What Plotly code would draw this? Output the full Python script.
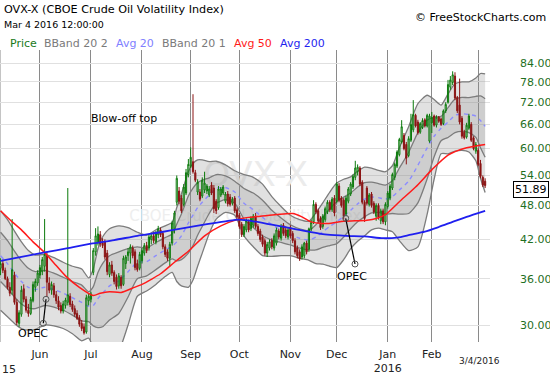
import math
import plotly.graph_objects as go

F = "DejaVu Sans"

# ---------------- data (trading-day index: 0 = 1 May 2015) ----------------
day = list(range(3, 213))

open_ = [
    37.5, 38.2, 37.2, 36.0, 34.8, 34.4, 36.5, 32.8, 30.2, 31.3,
    34.6, 33.2, 31.8, 31.4, 33.0, 34.8, 35.4, 36.5, 37.0, 37.8,
    39.4, 35.4, 34.4, 35.0, 33.8, 33.0, 32.4, 31.7, 32.4, 32.8,
    33.6, 32.6, 32.0, 31.4, 30.9, 30.2, 29.8, 29.2, 33.0, 33.2,
    36.9, 40.0, 41.4, 42.8, 41.5, 41.6, 39.8, 36.6, 38.0, 36.9,
    36.2, 35.0, 36.2, 35.2, 38.2, 39.4, 39.8, 40.6, 40.0, 38.2,
    37.5, 38.6, 39.8, 41.0, 40.6, 42.0, 42.6, 41.6, 42.8, 43.6,
    43.0, 40.8, 40.0, 39.0, 41.4, 43.6, 48.6, 50.8, 49.4, 48.2,
    50.4, 54.2, 56.0, 57.0, 54.6, 50.6, 50.6, 49.8, 51.0, 50.8,
    50.0, 52.0, 51.4, 48.8, 47.6, 50.0, 50.4, 48.8, 50.2, 49.6,
    48.4, 49.4, 47.2, 46.2, 44.6, 42.8, 43.6, 45.0, 43.8, 44.4,
    46.0, 44.2, 43.4, 42.4, 41.8, 39.8, 40.6, 41.8, 40.6, 41.4,
    43.4, 42.2, 44.4, 43.6, 42.4, 44.0, 43.0, 41.8, 40.6, 40.0,
    39.2, 39.4, 41.4, 40.4, 43.8, 45.0, 48.2, 47.0, 45.6, 44.2,
    45.4, 46.8, 48.6, 47.2, 49.4, 48.8, 51.8, 49.4, 49.0, 46.4,
    48.8, 50.2, 51.6, 53.6, 54.8, 55.6, 52.6, 48.6, 51.4, 48.2,
    50.2, 48.4, 46.0, 48.0, 45.2, 47.0, 45.0, 47.8, 49.4, 51.4,
    53.6, 56.0, 58.6, 61.6, 63.2, 61.0, 58.4, 62.0, 64.6, 68.4,
    66.6, 64.0, 65.2, 67.2, 65.6, 61.8, 66.4, 68.2, 65.8, 67.9,
    67.4, 66.2, 69.6, 72.0, 76.4, 77.8, 79.8, 73.4, 71.2, 67.6,
    64.0, 62.8, 65.0, 66.0, 62.6, 59.4, 59.6, 56.6, 53.6, 52.8,
]
high = [
    39.0, 38.8, 37.6, 36.3, 35.5, 45.5, 37.0, 33.2, 31.8, 35.0,
    35.2, 33.6, 32.6, 33.5, 35.6, 36.0, 37.2, 38.0, 39.2, 45.5,
    40.0, 36.2, 35.6, 35.4, 34.3, 33.6, 32.8, 33.0, 33.4, 51.4,
    34.0, 33.0, 32.4, 31.8, 31.2, 30.6, 30.2, 33.8, 34.0, 34.2,
    40.6, 43.9, 44.2, 43.4, 42.2, 42.0, 40.3, 38.4, 38.6, 37.2,
    36.6, 36.8, 36.5, 39.4, 39.5, 40.6, 41.2, 41.0, 40.4, 38.8,
    40.0, 40.6, 41.4, 41.6, 42.8, 43.0, 43.2, 43.4, 44.3, 44.0,
    43.4, 41.2, 40.4, 41.6, 45.2, 47.0, 54.0, 51.6, 50.0, 52.2,
    55.4, 57.6, 60.3, 74.3, 55.2, 53.2, 51.2, 53.6, 54.8, 52.2,
    51.8, 52.6, 52.0, 49.2, 51.8, 51.6, 52.0, 50.6, 50.8, 50.2,
    49.6, 49.8, 47.6, 46.6, 45.0, 44.6, 45.6, 45.4, 46.0, 46.4,
    46.6, 44.6, 43.8, 42.8, 42.2, 41.6, 42.0, 42.2, 43.0, 44.0,
    43.8, 44.6, 44.8, 44.2, 44.0, 44.4, 43.4, 42.2, 41.0, 40.4,
    41.2, 41.6, 41.8, 44.0, 45.4, 49.0, 48.6, 47.4, 46.0, 46.4,
    47.8, 49.0, 49.0, 49.6, 50.0, 52.6, 52.4, 49.8, 49.4, 49.8,
    51.6, 52.6, 54.2, 57.2, 56.4, 56.0, 53.0, 49.0, 51.8, 50.4,
    50.6, 48.8, 48.4, 48.4, 47.4, 47.4, 48.6, 50.8, 52.2, 54.6,
    56.8, 59.6, 62.6, 67.1, 63.8, 61.6, 63.0, 68.8, 72.6, 68.8,
    67.2, 66.6, 67.6, 67.6, 68.8, 68.8, 69.3, 68.6, 68.4, 68.2,
    67.8, 70.0, 72.0, 78.6, 79.8, 81.3, 81.0, 73.8, 79.0, 68.2,
    64.6, 66.4, 68.8, 66.6, 63.0, 61.6, 60.2, 57.4, 54.0, 53.4,
]
low = [
    36.5, 36.8, 35.8, 34.5, 33.6, 33.8, 32.5, 30.0, 29.8, 31.0,
    32.8, 31.5, 31.0, 31.2, 32.8, 34.2, 35.0, 36.0, 36.5, 37.0,
    33.5, 34.0, 33.8, 33.4, 32.6, 31.8, 31.4, 31.4, 32.0, 32.4,
    32.2, 31.6, 31.0, 30.6, 29.8, 29.3, 28.9, 29.0, 32.4, 32.8,
    36.5, 39.4, 41.0, 40.8, 40.6, 38.8, 36.5, 36.2, 36.4, 35.2,
    34.5, 34.6, 34.6, 35.0, 37.4, 38.6, 38.2, 39.0, 37.2, 37.0,
    37.2, 38.2, 39.4, 39.8, 40.2, 41.2, 41.4, 41.2, 42.2, 42.4,
    40.4, 39.2, 38.6, 37.8, 41.0, 43.0, 48.0, 48.2, 46.6, 47.8,
    50.0, 53.6, 55.6, 54.4, 52.6, 50.0, 48.8, 49.4, 50.4, 50.2,
    49.6, 50.0, 46.6, 46.4, 47.2, 49.6, 50.0, 48.4, 47.8, 47.8,
    48.0, 46.6, 45.6, 43.8, 42.4, 42.4, 43.2, 43.2, 43.4, 44.0,
    43.8, 42.6, 41.6, 40.8, 39.4, 39.2, 40.2, 40.4, 40.2, 41.0,
    42.0, 41.8, 42.6, 42.2, 42.0, 42.2, 41.4, 39.6, 39.0, 38.6,
    38.8, 39.0, 39.6, 40.0, 43.4, 44.6, 46.4, 44.8, 43.6, 43.8,
    45.0, 46.4, 46.8, 46.8, 46.0, 48.4, 48.6, 47.6, 45.4, 46.0,
    48.4, 49.8, 51.2, 53.0, 54.0, 51.8, 48.2, 45.0, 48.0, 47.8,
    47.6, 46.4, 45.2, 45.4, 44.6, 44.6, 44.4, 47.4, 49.0, 51.0,
    53.0, 55.6, 58.2, 61.2, 59.6, 56.4, 58.0, 61.6, 64.0, 65.2,
    63.4, 63.6, 64.8, 65.2, 65.2, 61.4, 63.8, 65.4, 65.2, 66.4,
    65.6, 65.8, 69.0, 71.6, 75.6, 77.0, 72.6, 69.0, 66.0, 62.4,
    62.2, 62.4, 64.6, 61.6, 59.6, 58.8, 56.0, 53.4, 51.6, 51.4,
]
close = [
    38.2, 37.2, 36.0, 34.8, 34.0, 37.3, 32.8, 30.3, 31.5, 34.4,
    33.2, 31.8, 31.4, 33.2, 35.2, 35.6, 36.8, 37.6, 38.8, 39.6,
    35.5, 34.4, 35.2, 33.8, 33.0, 32.2, 31.7, 32.6, 33.1, 33.8,
    32.5, 31.9, 31.3, 30.8, 30.1, 29.6, 29.1, 33.4, 33.6, 33.9,
    40.2, 42.6, 42.9, 41.3, 41.0, 39.2, 37.0, 38.0, 36.8, 35.6,
    34.9, 36.4, 35.0, 39.0, 39.2, 40.0, 40.8, 39.4, 37.6, 37.3,
    39.6, 40.2, 41.0, 40.2, 42.4, 42.6, 41.8, 42.9, 43.8, 42.8,
    40.8, 39.6, 39.0, 41.2, 44.8, 46.6, 53.4, 48.8, 47.0, 51.6,
    54.6, 56.4, 58.0, 54.8, 53.0, 52.6, 49.2, 53.0, 52.4, 51.8,
    51.2, 50.4, 47.4, 47.0, 51.2, 51.2, 51.6, 50.2, 48.3, 48.2,
    49.2, 47.0, 45.9, 44.2, 42.8, 44.2, 45.2, 43.6, 45.6, 46.0,
    44.2, 43.0, 42.0, 41.2, 39.8, 41.2, 41.6, 40.8, 42.6, 43.6,
    42.4, 44.2, 43.0, 42.6, 43.6, 42.6, 41.8, 40.0, 39.4, 38.9,
    40.8, 41.4, 40.0, 43.8, 44.9, 48.2, 46.8, 45.2, 44.0, 46.0,
    47.4, 48.6, 47.2, 49.2, 46.6, 52.2, 49.0, 48.0, 46.0, 49.4,
    51.2, 52.2, 53.8, 55.6, 55.8, 52.2, 48.6, 45.6, 48.4, 50.0,
    48.0, 46.8, 48.0, 45.8, 47.0, 45.0, 48.2, 50.4, 51.8, 54.2,
    56.4, 59.2, 62.2, 65.4, 60.0, 57.8, 62.4, 66.0, 68.6, 65.6,
    63.9, 66.2, 67.0, 65.6, 68.4, 68.2, 67.8, 65.8, 67.9, 66.8,
    66.0, 69.6, 71.4, 77.2, 78.6, 80.2, 73.2, 69.6, 66.6, 63.0,
    62.6, 65.8, 68.2, 62.0, 60.0, 61.0, 56.4, 53.8, 52.0, 51.89,
]

bb_idx = [3, 6, 9, 12, 15, 18, 22, 26, 30, 34,
          38, 41, 43, 45, 47, 50, 54, 58, 62, 66,
          70, 74, 77, 79, 81, 84, 86, 88, 90, 93,
          96, 100, 104, 108, 112, 116, 120, 124, 128, 132,
          136, 139, 142, 145, 148, 151, 154, 157, 160, 163,
          166, 169, 172, 175, 179, 183, 187, 190, 193, 196,
          199, 202, 205, 208, 210, 212]
avg20 = [39.4, 38.2, 36.8, 35.6, 34.8, 34.5, 34.8, 34.5, 34.0, 33.4,
         32.8, 32.3, 32.4, 33.3, 34.0, 35.0, 35.7, 37.0, 38.4, 38.5,
         39.4, 40.3, 40.9, 41.6, 42.6, 44.8, 46.2, 47.6, 48.6, 50.0,
         51.3, 51.5, 50.6, 48.4, 47.2, 45.8, 44.5, 43.6, 42.8, 42.2,
         41.9, 42.4, 43.3, 44.2, 45.0, 46.0, 47.1, 48.3, 49.2, 49.6,
         49.5, 49.2, 49.7, 51.0, 52.8, 56.2, 60.2, 63.0, 65.0, 66.6,
         68.4, 68.8, 68.6, 68.2, 67.0, 65.5]
sd20 = [3.8, 3.6, 3.3, 3.0, 2.7, 2.5, 2.4, 2.3, 2.2, 2.2,
        2.3, 1.9, 2.5, 3.6, 4.2, 4.4, 4.3, 3.5, 2.4, 2.1,
        2.1, 2.0, 2.0, 3.0, 3.8, 5.0, 5.2, 4.9, 4.4, 3.5,
        2.9, 2.4, 2.2, 2.9, 3.2, 3.2, 2.6, 2.1, 1.7, 1.6,
        1.6, 2.1, 2.6, 3.2, 3.7, 3.6, 3.3, 3.3, 3.3, 3.0,
        2.8, 2.8, 3.2, 4.6, 6.3, 7.7, 6.9, 4.9, 3.1, 3.9,
        4.5, 4.6, 4.7, 5.5, 6.8, 7.5]

ma50_idx = [3, 8, 12, 17, 22, 26, 31, 37, 43, 46,
            50, 55, 60, 64, 68, 72, 78, 84, 91, 98,
            105, 110, 115, 122, 129, 133, 137, 144, 151, 161,
            165, 169, 175, 182, 189, 196, 204, 212]
ma50 = [47.0, 45.0, 43.6, 41.6, 39.9, 38.3, 36.4, 34.8, 33.7, 34.0,
        34.2, 34.1, 34.7, 35.2, 35.9, 36.7, 38.4, 40.1, 42.6, 44.3,
        45.4, 45.8, 46.0, 46.3, 46.5, 45.9, 45.0, 44.7, 45.1, 45.3,
        45.6, 46.3, 48.7, 51.6, 55.2, 58.5, 60.2, 61.0]

ma200_idx = [3, 12, 22, 32, 42, 52, 62, 72, 82, 92,
             100, 106, 112, 120, 128, 136, 144, 152, 160, 168,
             174, 180, 186, 192, 198, 204, 212]
ma200 = [38.6, 39.2, 39.9, 40.6, 41.3, 41.9, 42.6, 43.2, 43.9, 44.6,
         45.1, 45.4, 45.1, 44.5, 43.9, 43.3, 42.8, 42.6, 42.5, 42.2,
         42.3, 42.8, 43.3, 44.1, 45.0, 45.9, 47.0]

month_idx = [20, 42, 64, 85, 106, 128, 148, 170, 189, 209]
month_lbl = ["Jun", "Jul", "Aug", "Sep", "Oct", "Nov", "Dec", "Jan<br>2016", "Feb", ""]

y_ticks = [30, 36, 42, 48, 54, 60, 66, 72, 78, 84]
last_price = close[-1]

# ---------------- derived band edges ----------------
u2 = [m + 2 * s for m, s in zip(avg20, sd20)]
l2 = [m - 2 * s for m, s in zip(avg20, sd20)]
u1 = [m + s for m, s in zip(avg20, sd20)]
l1 = [m - s for m, s in zip(avg20, sd20)]

fig = go.Figure()

# watermark (main layer, under everything)
fig.add_trace(go.Scatter(x=[113], y=[53.5], mode="text", text=["OVX-X"],
                         textfont=dict(family=F, size=34, color="#ebebeb"),
                         hoverinfo="skip", showlegend=False))
fig.add_trace(go.Scatter(x=[108.5], y=[45.9], mode="text",
                         text=["CBOE Crude Oil Volatility Index"],
                         textfont=dict(family=F, size=15, color="#eeeeee"),
                         hoverinfo="skip", showlegend=False))

band_line = dict(color="#7c7c7c", width=1.3, shape="spline", smoothing=0.6)
fig.add_trace(go.Scatter(x=bb_idx, y=l2, mode="lines", line=band_line,
                         hoverinfo="skip", showlegend=False))
fig.add_trace(go.Scatter(x=bb_idx, y=u2, mode="lines", line=band_line,
                         fill="tonexty", fillcolor="rgba(140,140,140,0.26)",
                         hoverinfo="skip", showlegend=False))
fig.add_trace(go.Scatter(x=bb_idx, y=l1, mode="lines", line=band_line,
                         hoverinfo="skip", showlegend=False))
fig.add_trace(go.Scatter(x=bb_idx, y=u1, mode="lines", line=band_line,
                         fill="tonexty", fillcolor="rgba(140,140,140,0.22)",
                         hoverinfo="skip", showlegend=False))
fig.add_trace(go.Scatter(x=bb_idx, y=avg20, mode="lines",
                         line=dict(color="#8c8cff", width=1.4, dash="4px,4px",
                                   shape="spline", smoothing=0.6),
                         hoverinfo="skip", showlegend=False))

# overlay layer: candles and moving averages
fig.add_trace(go.Candlestick(
    x=day, open=open_, high=high, low=low, close=close, yaxis="y2",
    increasing=dict(line=dict(color="#0b7a0b", width=1), fillcolor="rgba(0,0,0,0)"),
    decreasing=dict(line=dict(color="#8b1414", width=1), fillcolor="#8b1414"),
    whiskerwidth=0, hoverinfo="skip", showlegend=False))
fig.add_trace(go.Scatter(x=ma50_idx, y=ma50, mode="lines", yaxis="y2",
                         line=dict(color="#ff1a1a", width=1.5, shape="spline", smoothing=0.7),
                         hoverinfo="skip", showlegend=False))
fig.add_trace(go.Scatter(x=ma200_idx, y=ma200, mode="lines", yaxis="y2",
                         line=dict(color="#1f1fef", width=1.8, shape="spline", smoothing=0.7),
                         hoverinfo="skip", showlegend=False))

yr = [math.log10(28.07), math.log10(88.4)]

def px_x(px):
    return px / 490.0

def px_y(py):
    return (342.0 - py) / 292.0

ann = []
ann.append(dict(text="OVX-X (CBOE Crude Oil Volatility Index)", x=px_x(2), y=px_y(9),
                xanchor="left", font=dict(size=11.2, color="#000")))
ann.append(dict(text="Mar 4 2016 12:00:00", x=px_x(2), y=px_y(25),
                xanchor="left", font=dict(size=9.5, color="#000")))
ann.append(dict(text="© FreeStockCharts.com", x=px_x(548), y=px_y(17),
                xanchor="right", font=dict(size=11, color="#000")))
legend_items = [("Price", 8, "#1a7a1a"), ("BBand 20 2", 42, "#7a7a7a"),
                ("Avg 20", 114, "#8080ff"), ("BBand 20 1", 160, "#7a7a7a"),
                ("Avg 50", 232, "#ff1a1a"), ("Avg 200", 278, "#1f1fef")]
for t, xp, c in legend_items:
    ann.append(dict(text=t, x=px_x(xp), y=px_y(43), xanchor="left",
                    font=dict(size=11, color=c)))
ann.append(dict(text="Blow-off top", x=px_x(124), y=px_y(119), font=dict(size=11, color="#000")))
ann.append(dict(text="OPEC", x=px_x(33), y=px_y(333), font=dict(size=11, color="#000")))
ann.append(dict(text="OPEC", x=px_x(351.5), y=px_y(276), font=dict(size=11, color="#000")))
ann.append(dict(text="15", x=0, y=px_y(369), xanchor="left", font=dict(size=11, color="#222")))
ann.append(dict(text="3/4/2016", x=px_x(479), y=px_y(361), font=dict(size=9, color="#222")))
ann.append(dict(text=f"{last_price:.2f}", x=px_x(513), y=px_y(189.5), xanchor="left",
                font=dict(size=11, color="#000"), bgcolor="#fff",
                bordercolor="#000", borderwidth=1, borderpad=1))
for a in ann:
    a.setdefault("xref", "paper")
    a.setdefault("yref", "paper")
    a.setdefault("showarrow", False)
    a.setdefault("xanchor", "center")
    a.setdefault("yanchor", "middle")
    a["font"].setdefault("family", F)

shapes = [dict(type="line", xref="paper", yref="paper", x0=0, x1=0, y0=0, y1=1,
               line=dict(color="#8a8a8a", width=1), layer="below")]

def opec(p_top, p_bot):
    out = [dict(type="line", xref="paper", yref="paper",
                x0=px_x(p_top[0]), y0=px_y(p_top[1]), x1=px_x(p_bot[0]), y1=px_y(p_bot[1]),
                line=dict(color="#000", width=1.2))]
    for (cx, cy) in (p_top, p_bot):
        out.append(dict(type="circle", xref="paper", yref="paper",
                        x0=px_x(cx - 3), x1=px_x(cx + 3), y0=px_y(cy + 3), y1=px_y(cy - 3),
                        line=dict(color="#555", width=1), fillcolor="rgba(0,0,0,0)"))
    return out

shapes += opec((46, 299.3), (43.3, 323.3))
shapes += opec((345.7, 218.3), (355, 264))

fig.update_layout(
    width=550, height=375,
    margin=dict(l=0, r=60, t=50, b=33),
    paper_bgcolor="white", plot_bgcolor="white",
    showlegend=False,
    font=dict(family=F, size=11, color="#222"),
    xaxis=dict(range=[2.76, 214.1], tickvals=month_idx, ticktext=month_lbl,
               showgrid=True, gridcolor="#8a8a8a", gridwidth=1, zeroline=False,
               ticks="", showline=False, automargin=False, fixedrange=True,
               rangeslider=dict(visible=False),
               tickfont=dict(family=F, size=11, color="#222"), ticklabelstandoff=4),
    yaxis=dict(type="log", side="right", range=yr, tickvals=y_ticks,
               ticktext=[f"{v:.2f}" for v in y_ticks],
               showgrid=True, gridcolor="#e0e0e0", gridwidth=1, zeroline=False,
               ticks="", showline=False, automargin=False, fixedrange=True,
               tickfont=dict(family=F, size=11, color="#1f6f1f"), ticklabelstandoff=29),
    yaxis2=dict(type="log", overlaying="y", side="right", range=yr, visible=False,
                showgrid=False, fixedrange=True),
    annotations=ann,
    shapes=shapes,
)

fig.write_html("out.html", config={"displayModeBar": False},
               post_script="document.body.style.margin='0';document.body.style.padding='0';")
